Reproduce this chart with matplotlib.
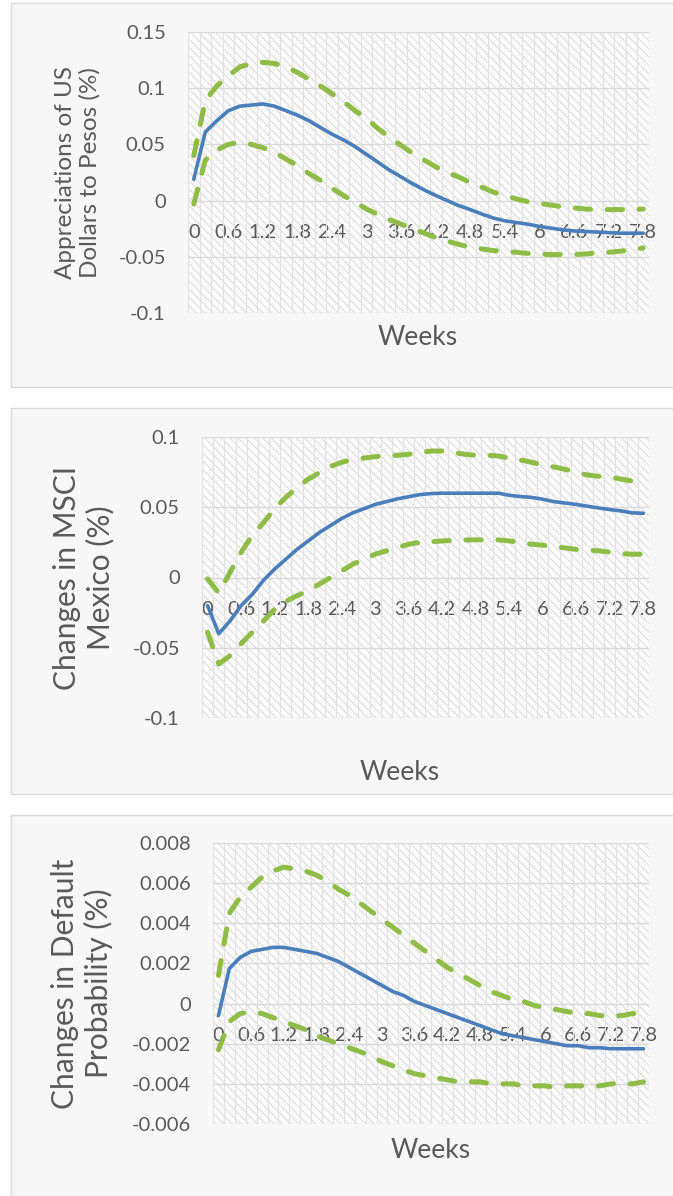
import matplotlib
matplotlib.use("Agg")
import matplotlib.pyplot as plt
from matplotlib.patches import Rectangle
from matplotlib.ticker import FixedLocator, FuncFormatter

plt.rcParams['font.family'] = ['Lato', 'DejaVu Sans']
plt.rcParams['lines.scale_dashes'] = False
plt.rcParams['hatch.linewidth'] = 0.6
plt.rcParams['hatch.color'] = '#d6d6d6'

# horizon in weeks (one category every 0.2 week)
weeks = [0, 0.2, 0.4, 0.6, 0.8, 1, 1.2, 1.4, 1.6, 1.8,
         2, 2.2, 2.4, 2.6, 2.8, 3, 3.2, 3.4, 3.6, 3.8,
         4, 4.2, 4.4, 4.6, 4.8, 5, 5.2, 5.4, 5.6, 5.8,
         6, 6.2, 6.4, 6.6, 6.8, 7, 7.2, 7.4, 7.6, 7.8]

# appreciation of USD against MXN (%)
fx_irf = [0.019, 0.061, 0.071, 0.080, 0.084, 0.085, 0.086, 0.084, 0.080, 0.076,
          0.071, 0.065, 0.059, 0.054, 0.048, 0.041, 0.034, 0.027, 0.021, 0.015,
          0.0095, 0.0045, 0.0, -0.0045, -0.008, -0.012, -0.0155, -0.018, -0.0195, -0.021,
          -0.023, -0.0245, -0.026, -0.027, -0.0275, -0.028, -0.0285, -0.029, -0.029, -0.029]
fx_upper = [0.040, 0.089, 0.102, 0.111, 0.119, 0.122, 0.123, 0.122, 0.119, 0.114,
            0.108, 0.102, 0.095, 0.088, 0.080, 0.073, 0.064, 0.056, 0.049, 0.042,
            0.036, 0.030, 0.025, 0.021, 0.016, 0.012, 0.0075, 0.0045, 0.0015, -0.001,
            -0.0025, -0.004, -0.0055, -0.0065, -0.0075, -0.008, -0.008, -0.008, -0.008, -0.0075]
fx_lower = [-0.003, 0.036, 0.045, 0.050, 0.052, 0.050, 0.047, 0.043, 0.037, 0.031,
            0.024, 0.018, 0.011, 0.0045, -0.0015, -0.0075, -0.0125, -0.017, -0.021, -0.025,
            -0.029, -0.033, -0.036, -0.039, -0.0415, -0.043, -0.0445, -0.045, -0.046, -0.047,
            -0.0475, -0.048, -0.048, -0.048, -0.0475, -0.0465, -0.046, -0.045, -0.044, -0.042]

# changes in MSCI Mexico (%)
msci_irf = [-0.020, -0.040, -0.031, -0.020, -0.012, -0.002, 0.006, 0.013, 0.020, 0.026,
            0.032, 0.037, 0.042, 0.046, 0.049, 0.052, 0.054, 0.056, 0.0575, 0.059,
            0.0597, 0.060, 0.060, 0.060, 0.060, 0.060, 0.060, 0.0585, 0.0576, 0.057,
            0.0557, 0.054, 0.053, 0.052, 0.0507, 0.0495, 0.0483, 0.0474, 0.046, 0.0457]
msci_upper = [-0.001, -0.011, 0.0035, 0.018, 0.030, 0.039, 0.049, 0.057, 0.064, 0.070,
              0.0746, 0.079, 0.082, 0.084, 0.085, 0.086, 0.0865, 0.087, 0.0877, 0.089,
              0.090, 0.090, 0.089, 0.0877, 0.087, 0.087, 0.0865, 0.085, 0.0837, 0.082,
              0.080, 0.0787, 0.077, 0.0746, 0.073, 0.072, 0.0716, 0.070, 0.0687, 0.0668]
msci_lower = [-0.039, -0.0616, -0.0557, -0.047, -0.039, -0.031, -0.0225, -0.017, -0.013, -0.0095,
              -0.0047, 0.0, 0.0047, 0.0095, 0.013, 0.0166, 0.019, 0.0213, 0.0237, 0.025,
              0.0254, 0.026, 0.0265, 0.0267, 0.0268, 0.0268, 0.0268, 0.026, 0.025, 0.0237,
              0.023, 0.022, 0.021, 0.020, 0.0194, 0.019, 0.018, 0.017, 0.0166, 0.0166]

# changes in default probability (%)
dp_irf = [-0.0006, 0.00175, 0.0023, 0.0026, 0.0027, 0.0028, 0.0028, 0.0027, 0.0026, 0.0025,
          0.0023, 0.0021, 0.0018, 0.0015, 0.0012, 0.0009, 0.0006, 0.0004, 0.0001, -0.0001,
          -0.0003, -0.0005, -0.0007, -0.0009, -0.0011, -0.0013, -0.0015, -0.0016, -0.0017, -0.0018,
          -0.0019, -0.0020, -0.0021, -0.0021, -0.0022, -0.0022, -0.00225, -0.00225, -0.00225, -0.00225]
dp_upper = [0.0014, 0.0045, 0.0053, 0.0058, 0.0063, 0.0066, 0.0068, 0.0067, 0.0066, 0.0064,
            0.0061, 0.0057, 0.0054, 0.0050, 0.0046, 0.0042, 0.0038, 0.0034, 0.0030, 0.0026,
            0.0022, 0.0018, 0.0015, 0.0012, 0.0009, 0.0006, 0.0004, 0.0002, 0.0001, -0.0001,
            -0.0002, -0.0003, -0.0004, -0.0005, -0.0005, -0.0006, -0.0006, -0.0006, -0.0005, -0.0005]
dp_lower = [-0.0023, -0.0009, -0.0005, -0.0004, -0.0005, -0.0007, -0.0009, -0.0011, -0.0013, -0.0016,
            -0.0018, -0.0020, -0.0022, -0.0024, -0.0026, -0.0029, -0.0031, -0.0033, -0.0035, -0.0036,
            -0.0037, -0.0038, -0.0039, -0.0039, -0.0039, -0.0040, -0.0040, -0.0040, -0.0041, -0.0041,
            -0.0041, -0.0042, -0.0041, -0.0041, -0.0041, -0.0041, -0.0040, -0.0040, -0.0040, -0.0039]

fx_yticks = [-0.1, -0.05, 0, 0.05, 0.1, 0.15]
msci_yticks = [-0.1, -0.05, 0, 0.05, 0.1]
dp_yticks = [-0.006, -0.004, -0.002, 0, 0.002, 0.004, 0.006, 0.008]

W, H = 673, 1196
BLUE = '#4a7ebb'
GREEN = '#8fbc46'
TEXT = '#595959'

fig = plt.figure(figsize=(W / 100, H / 100), dpi=100)
fig.patch.set_facecolor('white')


def panel_box(top, bottom):
    # grey chart-area card behind each chart
    rect = Rectangle((11 / W, 1 - bottom / H), (W + 20 - 11) / W, (bottom - top) / H,
                     transform=fig.transFigure, facecolor='#f7f7f7',
                     edgecolor='#d9d9d9', linewidth=1, zorder=-10)
    fig.patches.append(rect)


def ytick_fmt(v, pos):
    v = round(v, 6)
    if v == 0:
        return '0'
    return f'{v:g}'


def draw_panel(left, top, right, bottom, yticks, irf, upper, lower,
               ylabel, ylabel_size, ylabel_x, weeks_x, weeks_y):
    ax = fig.add_axes([left / W, 1 - bottom / H, (right - left) / W, (bottom - top) / H])
    ax.patch.set_facecolor('#fbfbfb')
    ax.patch.set_hatch('\\\\\\\\')
    ax.patch.set_edgecolor('#d6d6d6')
    ax.patch.set_linewidth(0)

    idx = list(range(len(weeks)))
    ax.plot(idx, upper, color=GREEN, lw=3.6, dashes=(11, 12), dash_capstyle='round')
    ax.plot(idx, lower, color=GREEN, lw=3.6, dashes=(11, 12), dash_capstyle='round')
    ax.plot(idx, irf, color=BLUE, lw=2.6, solid_capstyle='round')

    ax.set_xlim(-0.5, len(weeks) - 0.5)
    ax.set_ylim(yticks[0], yticks[-1])

    # category axis: label every third category
    ax.set_xticks(idx[::3])
    ax.set_xticklabels([f'{weeks[i]:g}' for i in idx[::3]])
    ax.xaxis.set_minor_locator(FixedLocator([i - 0.5 for i in idx] + [len(idx) - 0.5]))
    ax.set_yticks(yticks)
    ax.yaxis.set_major_formatter(FuncFormatter(ytick_fmt))

    ax.grid(axis='y', which='major', color='#d9d9d9', lw=1)
    ax.grid(axis='x', which='minor', color='#e2e2e2', lw=0.8)
    ax.set_axisbelow(True)

    for s in ax.spines.values():
        s.set_visible(False)
    ax.spines['bottom'].set_position(('data', 0))
    ax.tick_params(axis='x', which='both', length=0, pad=17, labelsize=14.5, labelcolor=TEXT)
    ax.tick_params(axis='y', which='both', length=0, pad=16, labelsize=14.5, labelcolor=TEXT)

    fig.text(ylabel_x / W, 1 - (top + bottom) / 2 / H, ylabel, rotation=90,
             ha='center', va='center', multialignment='center', linespacing=1.2,
             fontsize=ylabel_size, color=TEXT)
    fig.text(weeks_x / W, 1 - weeks_y / H, 'Weeks', ha='center', va='center',
             fontsize=19, color=TEXT)
    return ax


panel_box(3, 387)
panel_box(408, 794)
panel_box(815, 1210)

draw_panel(188, 32, 649, 313, fx_yticks, fx_irf, fx_upper, fx_lower,
           'Appreciations of US\nDollars to Pesos (%)', 17.5, 78, 418, 338)
draw_panel(202, 437, 649, 718, msci_yticks, msci_irf, msci_upper, msci_lower,
           'Changes in MSCI\nMexico (%)', 21.5, 84, 400, 773)
draw_panel(213, 843, 649, 1124, dp_yticks, dp_irf, dp_upper, dp_lower,
           'Changes in Default\nProbability (%)', 21.5, 82, 431, 1150)

fig.savefig('out.png', dpi=100)
